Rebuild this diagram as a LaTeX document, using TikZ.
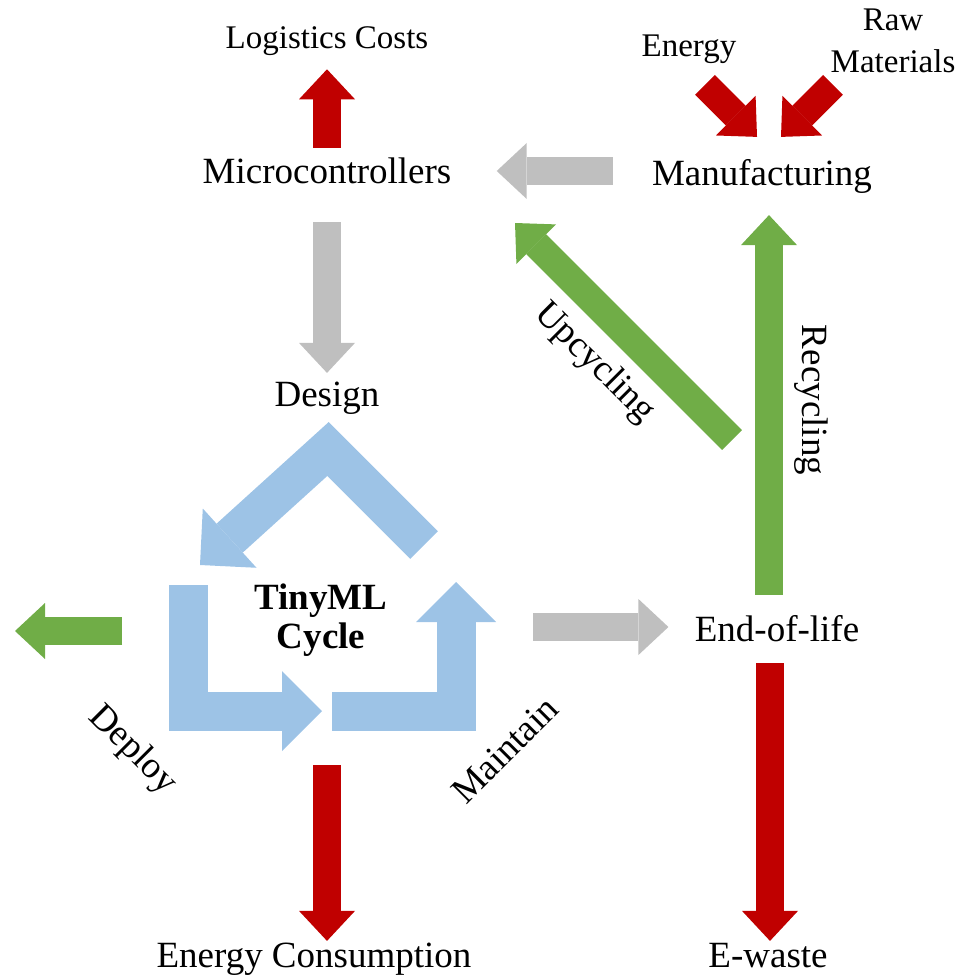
\documentclass[tikz,border=0pt]{standalone}
\usepackage{fontspec}
\setmainfont{Liberation Serif}
\usepackage{xcolor}
\usepackage{tikz}
\usetikzlibrary{arrows.meta}
\definecolor{arrowred}{HTML}{C00000}
\definecolor{arrowgray}{HTML}{BFBFBF}
\definecolor{arrowgreen}{HTML}{70AD47}
\definecolor{cycleblue}{HTML}{9DC3E6}
\tikzstyle{blockarrow} = [line width=14pt,-{Triangle[length=15pt,width=28pt,line width=0pt]}]
\tikzstyle{redarrow} = [blockarrow,arrowred]
\tikzstyle{grayarrow} = [blockarrow,arrowgray]
\tikzstyle{greenarrow} = [blockarrow,arrowgreen]
\tikzstyle{bluearrow} = [line width=19.5pt,line join=miter,cycleblue,-{Triangle[length=20pt,width=40pt,line width=0pt]}]
\tikzstyle{bigtext} = [inner sep=0pt,text height=13pt,text depth=3.7pt,font=\fontsize{18.5}{20}\selectfont]
\tikzstyle{smalltext} = [inner sep=0pt,text height=11.6pt,text depth=3.3pt,font=\fontsize{16.5}{21}\selectfont]

\begin{document}
\begin{tikzpicture}[x=0.5pt,y=-0.5pt]
	\useasboundingbox (0,0) rectangle (963,978);
	
	% Labels:
	% Every stage is a plain text node, placed at its own coordinate
	\node[bigtext] (micro) at (327,174) {Microcontrollers};
	\node[smalltext] (logi) at (327,40) {Logistics Costs};
	\node[bigtext] (manu) at (762,176) {Manufacturing};
	\node[smalltext] (energyin) at (689,48) {Energy};
	\node[inner sep=0pt,align=center,font=\fontsize{16.5}{21}\selectfont] (rawin) at (893,41) {Raw\\Materials};
	\node[bigtext] (design) at (327,397) {Design};
	\node[inner sep=0pt,align=center,font=\fontsize{18.5}{19.5}\selectfont\bfseries] (tinyml) at (321,620) {TinyML\\Cycle};
	\node[bigtext] (eol) at (777,632) {End-of-life};
	\node[bigtext] (econs) at (314,958) {Energy Consumption};
	\node[bigtext] (ewaste) at (768,958) {E-waste};
	
	% Rotated labels along the arrows
	\node[bigtext,rotate=-45] (upcyc) at (595,363) {Upcycling};
	\node[bigtext,rotate=-90] (recyc) at (812,400) {Recycling};
	\node[bigtext,rotate=-45] (deploy) at (133,750) {Deploy};
	\node[bigtext,rotate=45] (maintain) at (507,752) {Maintain};
	
	% Red arrows (costs and inputs):
	\draw[redarrow] ([yshift=4.5pt]micro.north) -- ([yshift=-7pt]logi.south);
	\draw[redarrow] ([shift={(-57,-74)}]manu.north) -- ([shift={(-5,-22)}]manu.north);
	\draw[redarrow] ([shift={(71,-74)}]manu.north) -- ([shift={(19,-22)}]manu.north);
	\coordinate (consume) at (327,765);
	\draw[redarrow] (consume) -- (consume |- econs.north);
	\coordinate (discard) at (770,663);
	\draw[redarrow] (discard) -- (discard |- ewaste.north);
	
	% Gray arrows (flow of the devices):
	\draw[grayarrow] ([xshift=-19.5pt,yshift=2.5pt]manu.west) -- ([xshift=22.5pt,yshift=1.5pt]micro.east);
	\draw[grayarrow] ([yshift=-15.5pt]micro.south) -- ([yshift=3.5pt]design.north);
	\coordinate (release) at (533,627);
	\draw[grayarrow,shorten >=13pt] (release) -- (release -| eol.west);
	
	% Green arrows (reuse):
	\draw[greenarrow,shorten >=11pt] ([xshift=-4pt,yshift=10pt]eol.north) -- ([xshift=-4pt]eol.north |- manu.south);
	\coordinate (upcycle) at (732,440);
	\draw[greenarrow] (upcycle) -- ++(-217,-217);
	\coordinate (deployout) at (122,631);
	\draw[greenarrow] (deployout) -- ++(-107,0);
	
	% Blue cycle:
	\draw[bluearrow] (424,545) -- (328,449) -- (200,565);
	\draw[bluearrow] (188,585) -- (188,711) -- (322,711);
	\draw[bluearrow] (332,711) -- (456,711) -- (456,582);
	
\end{tikzpicture}
\end{document}
